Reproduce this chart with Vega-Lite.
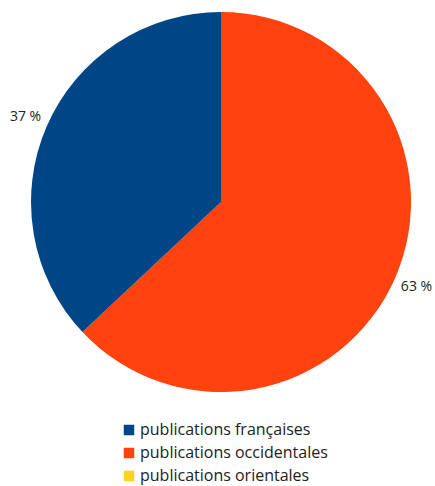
{
  "$schema": "https://vega.github.io/schema/vega-lite/v6.json",
  "width": 428,
  "height": 404,
  "padding": {"left": 7, "top": 0, "right": 0, "bottom": 2},
  "background": "white",
  "config": {"view": {"stroke": null}, "font": "Open Sans"},
  "data": {"values": [
    {"category": "publications occidentales", "value": 63, "ord": 1},
    {"category": "publications françaises", "value": 37, "ord": 2},
    {"category": "publications orientales", "value": 0, "ord": 3}
  ]},
  "encoding": {
    "theta": {"field": "value", "type": "quantitative", "stack": true},
    "order": {"field": "ord", "type": "quantitative"},
    "color": {
      "field": "category", "type": "nominal",
      "scale": {
        "domain": ["publications françaises", "publications occidentales", "publications orientales"],
        "range": ["#004586", "#ff420e", "#ffd320"]
      },
      "legend": {
        "title": null, "orient": "none", "legendX": 114, "legendY": 422, "direction": "vertical",
        "symbolType": "square", "symbolSize": 110, "symbolStrokeWidth": 0,
        "labelFontSize": 16, "labelColor": "#222", "rowPadding": 7, "padding": 0,
        "labelLimit": 400, "labelOffset": 3,
        "labelFont": "Open Sans"
      }
    }
  },
  "layer": [
    {"mark": {"type": "arc", "outerRadius": 190}},
    {
      "transform": [{"filter": "datum.value > 0"}, {"calculate": "datum.value + ' %'", "as": "label"}],
      "mark": {"type": "text", "radius": 213, "fontSize": 14, "color": "#222", "align": "center", "baseline": "middle"},
      "encoding": {"text": {"field": "label"}, "color": {"value": "#222"}}
    }
  ]
}
